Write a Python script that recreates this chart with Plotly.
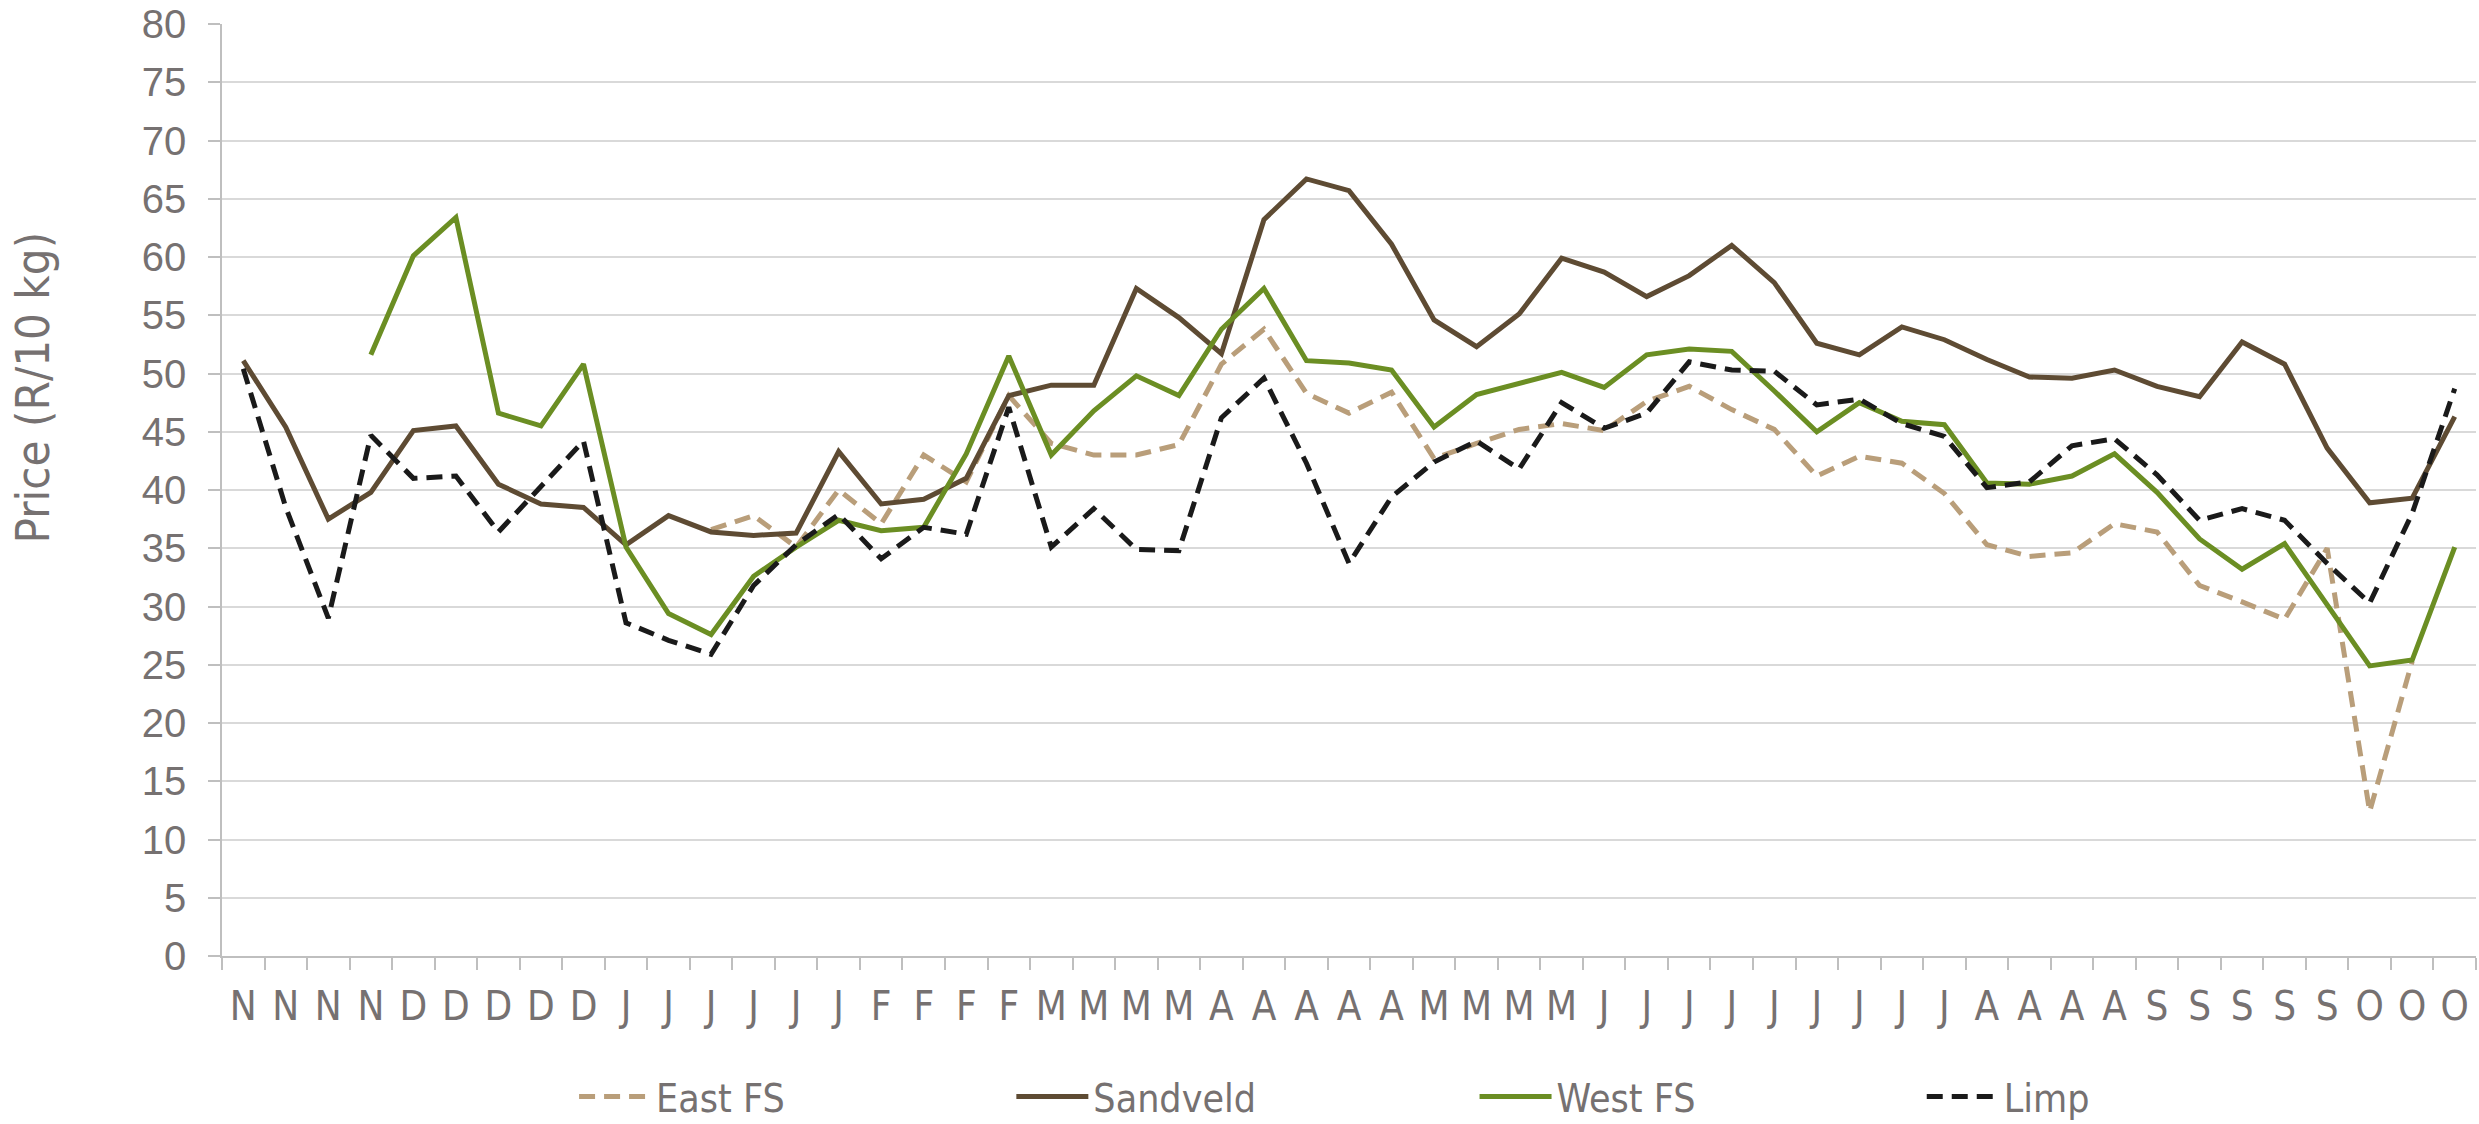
import plotly.graph_objects as go

labels = (["N"] * 4 + ["D"] * 5 + ["J"] * 6 + ["F"] * 4 + ["M"] * 4 + ["A"] * 5 +
          ["M"] * 4 + ["J"] * 9 + ["A"] * 4 + ["S"] * 5 + ["O"] * 3)

east_fs = [None, None, None, None, None, None, None, None, None, None, None,
           36.6, 37.8, 35.1, 40.0, 37.1, 43.0, 40.7, 48.1, 44.0, 43.0, 43.0, 43.9,
           50.8, 53.8, 48.3, 46.6, 48.4, 42.7, 44.0, 45.2, 45.7, 45.1, 47.6, 48.9,
           46.9, 45.2, 41.2, 42.9, 42.3, 39.7, 35.3, 34.3, 34.6, 37.1, 36.4, 31.8,
           30.4, 28.9, 35.0, 12.4, 25.3, None]

sandveld = [51.1, 45.4, 37.5, 39.8, 45.1, 45.5, 40.5, 38.8, 38.5, 35.3, 37.8,
            36.4, 36.1, 36.3, 43.3, 38.8, 39.2, 41.0, 48.1, 49.0, 49.0, 57.3, 54.8,
            51.7, 63.2, 66.7, 65.7, 61.1, 54.6, 52.3, 55.1, 59.9, 58.7, 56.6, 58.4,
            61.0, 57.8, 52.6, 51.6, 54.0, 52.9, 51.2, 49.7, 49.6, 50.3, 48.9, 48.0,
            52.7, 50.8, 43.6, 38.9, 39.3, 46.3]

west_fs = [None, None, None, 51.6, 60.1, 63.4, 46.6, 45.5, 50.8, 35.1, 29.4,
           27.6, 32.6, 35.1, 37.4, 36.5, 36.8, 43.1, 51.5, 43.0, 46.8, 49.8, 48.1,
           53.8, 57.3, 51.1, 50.9, 50.3, 45.4, 48.2, 49.2, 50.1, 48.8, 51.6, 52.1,
           51.9, 48.5, 45.0, 47.5, 45.9, 45.6, 40.6, 40.5, 41.2, 43.1, 39.8, 35.8,
           33.2, 35.4, 30.1, 24.9, 25.4, 35.1]

limp = [50.4, 38.5, 29.0, 44.7, 41.0, 41.2, 36.4, 40.3, 44.2, 28.6, 27.1,
        25.9, 31.8, 35.3, 37.9, 34.1, 36.8, 36.2, 47.1, 35.1, 38.4, 34.9, 34.8,
        46.2, 49.6, 42.3, 33.7, 39.4, 42.4, 44.2, 41.8, 47.5, 45.3, 46.6, 51.0,
        50.3, 50.2, 47.3, 47.8, 45.7, 44.6, 40.2, 40.7, 43.8, 44.4, 41.3, 37.4,
        38.4, 37.4, 33.7, 30.3, 38.0, 48.7]

y_ticks = list(range(0, 81, 5))

x = list(range(len(labels)))

NARROW = "DejaVu Sans Condensed, Liberation Sans Narrow, DejaVu Sans, sans-serif"
REG = "Liberation Sans, Arial, sans-serif"
GRAY = "#767171"

fig = go.Figure()
series = [
    ("East FS", east_fs, "#B99E7A", "16px,9px", "legend", 0.1562),
    ("Sandveld", sandveld, "#5E4B33", "solid", "legend2", 0.3502),
    ("West FS", west_fs, "#6B8E23", "solid", "legend3", 0.5557),
    ("Limp", limp, "#1A1A1A", "16px,9px", "legend4", 0.7541),
]
legend_cfg = {}
for name, vals, col, dash, leg, lx in series:
    fig.add_trace(go.Scatter(x=x, y=vals, name=name, mode="lines",
                             line=dict(color=col, width=5, dash=dash),
                             connectgaps=False, legend=leg))
    legend_cfg[leg] = dict(orientation="h", x=lx, xanchor="left",
                           y=-0.151, yanchor="middle", itemwidth=72,
                           bgcolor="rgba(0,0,0,0)",
                           font=dict(family=NARROW, size=39, color=GRAY))

fig.update_layout(
    width=2479, height=1124,
    margin=dict(l=222, r=3, t=24, b=168, autoexpand=False),
    paper_bgcolor="white", plot_bgcolor="white",
    showlegend=True,
    xaxis=dict(range=[-0.5, len(labels) - 0.5], tickmode="array", tickvals=x,
               ticktext=labels, ticks="", showgrid=False, zeroline=False,
               automargin=False,
               showline=True, linecolor="#BFBFBF", linewidth=1.5,
               tickfont=dict(family=NARROW, size=40, color=GRAY),
               ticklabelstandoff=14,
               minor=dict(tick0=0.5, dtick=1, ticks="outside", ticklen=12,
                          tickcolor="#BFBFBF", tickwidth=1.5, showgrid=False)),
    yaxis=dict(range=[0, 80], tickmode="array", tickvals=y_ticks,
               ticks="outside", ticklen=12, tickcolor="#BFBFBF", tickwidth=1.5,
               showgrid=True, gridcolor="#D9D9D9", gridwidth=1.5, zeroline=False,
               automargin=False,
               showline=True, linecolor="#BFBFBF", linewidth=1.5,
               tickfont=dict(family=REG, size=40, color=GRAY),
               ticklabelstandoff=14),
    annotations=[dict(text="Price (R/10 kg)", xref="paper", yref="paper",
                      x=-0.0843, y=0.61, xanchor="center", yanchor="middle",
                      textangle=-90, showarrow=False,
                      font=dict(family=NARROW, size=47, color=GRAY))],
    **legend_cfg,
)

fig.write_html("out.html", config={"displayModeBar": False},
               post_script="document.body.style.margin='0px';")
